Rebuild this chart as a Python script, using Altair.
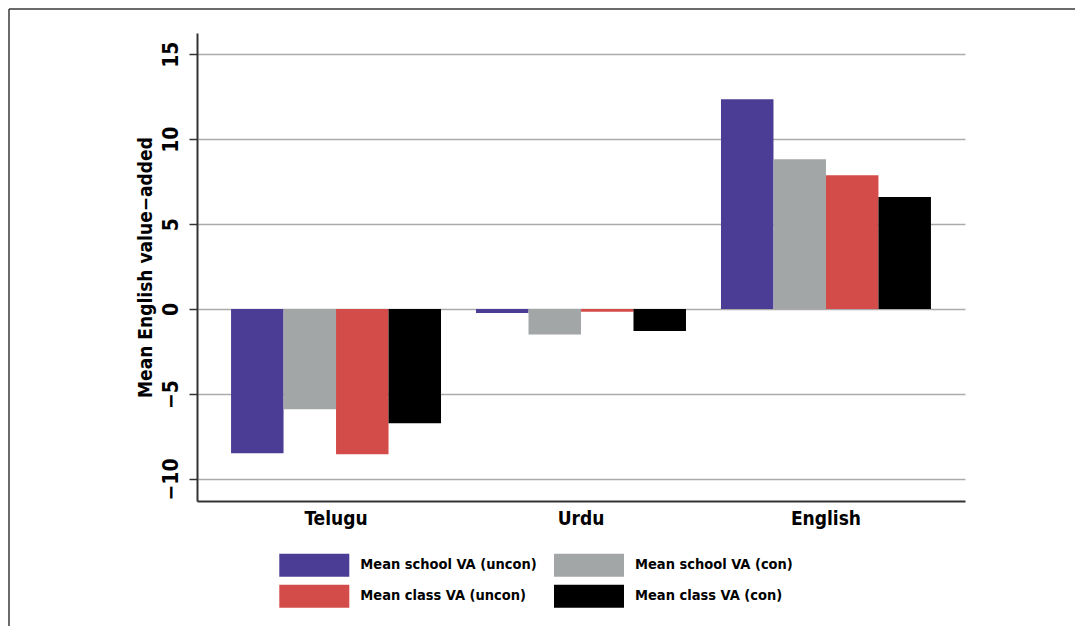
import altair as alt
import pandas as pd

languages = ["Telugu", "Urdu", "English"]
series = ["Mean school VA (uncon)", "Mean school VA (con)",
          "Mean class VA (uncon)", "Mean class VA (con)"]
school_uncon = [-8.49, -0.23, 12.35]
school_con = [-5.90, -1.50, 8.82]
class_uncon = [-8.55, -0.16, 7.88]
class_con = [-6.73, -1.29, 6.59]
colors = ["#4B3C95", "#A3A6A6", "#D44C49", "#000000"]
y_ticks = [-10, -5, 0, 5, 10, 15]
legend_col = [0, 1, 0, 1]
legend_row = [0, 0, 1, 1]

rows = []
for s, vals in zip(series, [school_uncon, school_con, class_uncon, class_con]):
    for lang, v in zip(languages, vals):
        rows.append({"language": lang, "series": s, "value": v})
df = pd.DataFrame(rows)
legend_df = pd.DataFrame({"series": series, "col": legend_col, "row": legend_row})

FONT = "Liberation Sans Narrow, DejaVu Sans Condensed, Arial Narrow, sans-serif"
color_enc = alt.Color("series:N", sort=series,
                      scale=alt.Scale(domain=series, range=colors), legend=None)

bars = alt.Chart(df).mark_bar().encode(
    x=alt.X("language:N", sort=languages,
            scale=alt.Scale(paddingInner=0.1429, paddingOuter=0.139),
            axis=alt.Axis(title=None, labelFont=FONT, labelFontSize=19,
                          labelFontWeight="bold", labelColor="#000",
                          ticks=False, domainColor="#333", domainWidth=2,
                          labelPadding=8, labelAngle=0, grid=False)),
    xOffset=alt.XOffset("series:N", sort=series,
                        scale=alt.Scale(paddingInner=0, paddingOuter=0)),
    y=alt.Y("value:Q",
            scale=alt.Scale(domain=[-11.3, 16.25], nice=False, zero=False),
            axis=alt.Axis(values=y_ticks, title="Mean English value\u2212added",
                          labelAngle=270, labelAlign="center",
                          labelBaseline="alphabetic",
                          labelFont=FONT, labelFontSize=21, labelFontWeight="bold",
                          labelColor="#000", labelPadding=12,
                          titleFont=FONT, titleFontSize=19, titleFontWeight="bold",
                          titleColor="#000", titlePadding=5,
                          domainColor="#333", domainWidth=2,
                          tickColor="#333", tickWidth=1.5, tickSize=8,
                          grid=True, gridColor="#ABABAB", gridWidth=1.5)),
    color=color_enc,
)

legend_x = alt.X("col:Q", scale=alt.Scale(domain=[0, 1], range=[117.3, 392]), axis=None)
legend_y = alt.Y("row:Q", scale=alt.Scale(domain=[0, 1], range=[532.3, 563.3]), axis=None)

legend_sym = alt.Chart(legend_df).mark_point(
    shape="M-1,-0.3286L1,-0.3286L1,0.3286L-1,0.3286Z", size=4900,
    filled=True, opacity=1, strokeWidth=0
).encode(x=legend_x, y=legend_y, color=color_enc)

legend_txt = alt.Chart(legend_df).mark_text(
    align="left", baseline="middle", dx=46, font=FONT, fontSize=14.5,
    fontWeight="bold", color="#000"
).encode(x=legend_x, y=legend_y, text="series:N")

frame_df = pd.DataFrame({"k": [0]})
frame_v = alt.Chart(frame_df).mark_rule(color="#3A3A3A", strokeWidth=1.5).encode(
    x=alt.value(-188), y=alt.value(-24), y2=alt.value(700))
frame_h = alt.Chart(frame_df).mark_rule(color="#3A3A3A", strokeWidth=1.5).encode(
    x=alt.value(-188), x2=alt.value(1000), y=alt.value(-24))

chart = alt.layer(bars, legend_sym, legend_txt, frame_v, frame_h).resolve_scale(
    x="independent", y="independent"
).properties(
    width=768, height=468,
    padding={"left": 189, "top": 25, "right": 110, "bottom": 125},
    autosize="none", background="white"
).configure_view(strokeWidth=0)

chart.save("out.html", embed_options={"renderer": "svg", "actions": False})
